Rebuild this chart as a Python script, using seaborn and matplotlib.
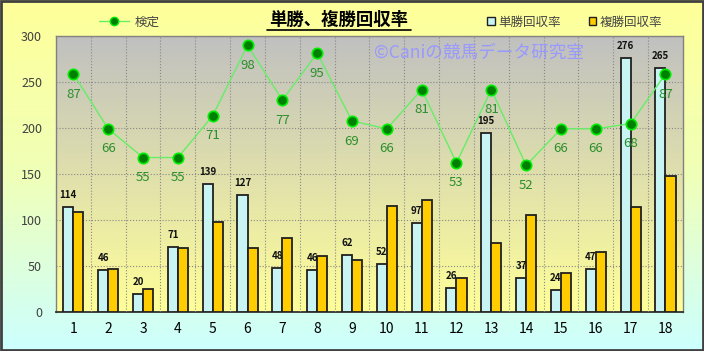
import numpy as np
import pandas as pd
import seaborn as sns
import matplotlib.pyplot as plt
from matplotlib.lines import Line2D
from matplotlib.patches import Patch, Rectangle
from matplotlib.colors import LinearSegmentedColormap

# data
races = [str(i) for i in range(1, 19)]
tansho = [114, 46, 20, 71, 139, 127, 48, 46, 62, 52, 97, 26, 195, 37, 24, 47, 276, 265]
fukusho = [109, 47, 25, 70, 98, 70, 80, 61, 57, 115, 122, 37, 75, 106, 42, 65, 114, 148]
kentei = [87, 66, 55, 55, 71, 98, 77, 95, 69, 66, 81, 53, 81, 52, 66, 66, 68, 87]
series_names = ['単勝回収率', '複勝回収率']
bar_colors = ['#C8F4F4', '#FFCC00']

sns.set_style('white')
plt.rcParams['font.family'] = ['Noto Sans CJK JP', 'DejaVu Sans']

df = pd.DataFrame({'race': races * 2,
                   'series': [series_names[0]] * 18 + [series_names[1]] * 18,
                   'value': tansho + fukusho})

fig = plt.figure(figsize=(7.04, 3.51), dpi=100)

# figure background gradient (yellow -> cyan)
bg = fig.add_axes([0, 0, 1, 1], zorder=-10)
grad = np.linspace(0, 1, 256).reshape(-1, 1)
bg.imshow(grad, aspect='auto', extent=[0, 1, 0, 1],
          cmap=LinearSegmentedColormap.from_list('bg', ['#FFFF99', '#F0FFB8', '#CCFFFF']))
bg.set_xlim(0, 1)
bg.set_ylim(0, 1)
bg.axis('off')
bg.add_patch(Rectangle((0.001, 0.002), 0.997, 0.995, fill=False,
                       edgecolor='#404040', lw=2, transform=bg.transAxes))

ax = fig.add_axes([0.0795, 0.111, 0.8905, 0.786])
# plot area gradient (gray -> yellow)
ax.imshow(grad, aspect='auto', extent=[0, 1, 0, 1], transform=ax.transAxes, zorder=0,
          cmap=LinearSegmentedColormap.from_list('pa', ['#C0C0C0', '#FFFF99']))

sns.barplot(data=df, x='race', y='value', hue='series', palette=bar_colors,
            width=0.58, edgecolor='#202020', linewidth=1.3, saturation=1,
            ax=ax, legend=False, zorder=3)
for p in ax.patches:
    p.set_zorder(3)

ax.bar_label(ax.containers[0], labels=[str(v) for v in tansho], padding=5,
             fontsize=7, fontweight='bold', color='#111111', zorder=4)

ax.set_xlim(-0.5, 17.5)
ax.set_ylim(0, 300)
ax.set_yticks(range(0, 301, 50))
ax.set_xticks(range(18))
ax.set_xticklabels(races)
ax.set_xticks(np.arange(0.5, 17, 1), minor=True)
ax.grid(which='major', axis='y', color='#888888', ls=':', lw=0.8, zorder=1)
ax.grid(which='minor', axis='x', color='#888888', ls=':', lw=0.8, zorder=1)
ax.set_axisbelow(False)
ax.tick_params(axis='y', labelsize=9, colors='#404040', length=0, pad=10)
ax.tick_params(axis='x', which='major', labelsize=10, colors='black', length=0, pad=7)
ax.tick_params(axis='x', which='minor', length=3, color='#404040')
ax.set_xlabel('')
ax.set_ylabel('')
for s in ax.spines.values():
    s.set_color('#808080')
    s.set_linewidth(1)
ax.spines['bottom'].set_color('#303030')
ax.spines['bottom'].set_linewidth(1.3)

# secondary axis for the 検定 line
ax2 = ax.twinx()
sns.lineplot(x=np.arange(18), y=kentei, ax=ax2, color='#66EE66', lw=1,
             marker='o', markersize=7.5, markerfacecolor='#008000',
             markeredgecolor='#00EE00', markeredgewidth=1.2, zorder=5)
ax2.set_ylim(-4.2, 101.5)
ax2.set_xlim(-0.5, 17.5)
ax2.set_yticks([])
for s in ax2.spines.values():
    s.set_visible(False)
for i, v in enumerate(kentei):
    ax2.annotate(str(v), (i, v), xytext=(0, -14.5), textcoords='offset points',
                 ha='center', va='center', fontsize=9.5, color='#2A8F2A', zorder=6)

# title with underline
fig.text(0.4815, 0.943, '単勝、複勝回収率', ha='center', va='center',
         fontsize=12.5, fontweight='bold', color='black')
fig.add_artist(Line2D([267 / 704, 411 / 704], [1 - 29.5 / 351, 1 - 29.5 / 351],
                      color='black', lw=1.2))

# watermark
fig.text(374 / 704, 1 - 53 / 351, '©Caniの競馬データ研究室', ha='left', va='center',
         fontsize=12.7, color='#9999FF')

# legends
line_handle = Line2D([], [], color='#66EE66', lw=1, marker='o', markersize=6,
                     markerfacecolor='#008000', markeredgecolor='#00EE00')
fig.legend(handles=[line_handle], labels=['検定'], loc='center left',
           bbox_to_anchor=(88 / 704, 1 - 22 / 351), frameon=False, fontsize=9,
           handlelength=2.4, handletextpad=0.4, labelcolor='#444444')
bar_handles = [Patch(facecolor=c, edgecolor='#202020', lw=1) for c in bar_colors]
fig.legend(handles=bar_handles, labels=series_names, loc='center left',
           bbox_to_anchor=(476 / 704, 1 - 22 / 351), frameon=False, fontsize=9,
           ncol=2, handlelength=0.6, handleheight=0.6, handletextpad=0.3,
           columnspacing=2.2, labelcolor='#444444')

plt.savefig('out.png', dpi=100)
